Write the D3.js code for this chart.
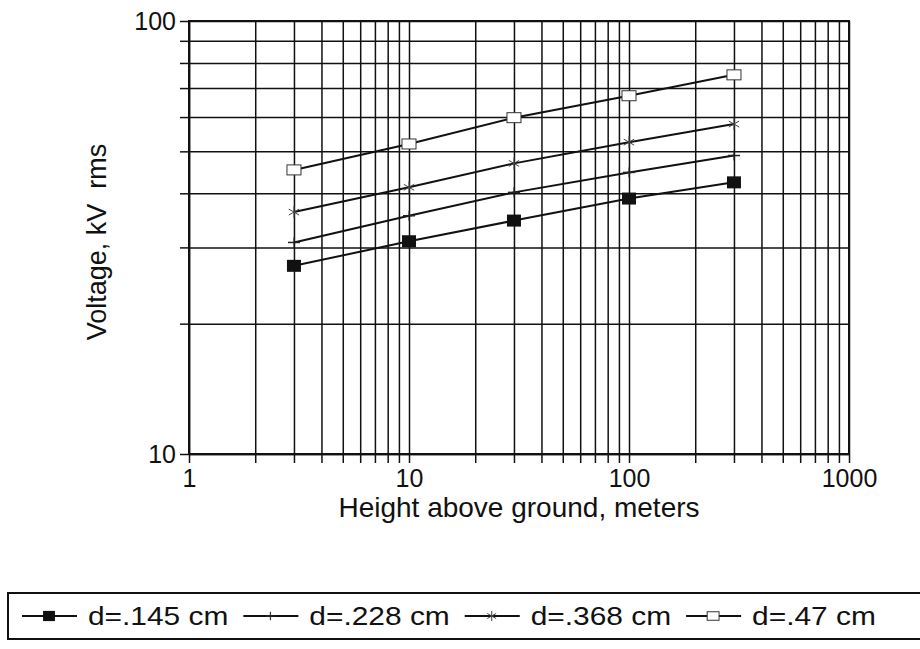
<!DOCTYPE html>
<html lang="en">
  <head>
    <meta charset="utf-8">
    <title>Voltage vs height</title>
    <style>
      body { margin: 0; background: #fff; }
      svg { display: block; font-family: "Liberation Sans", Arial, sans-serif; }
    </style>
  </head>
  <body>
  <script src="https://d3js.org/d3.v7.min.js"></script>

  <svg width="920" height="649"></svg>

  <script type="text/javascript">

    // data
    var heights = [3, 10, 30, 100, 300];
    var v145 = [27.2, 31.0, 34.6, 38.9, 42.4];
    var v228 = [30.8, 35.5, 40.2, 44.7, 48.9];
    var v368 = [36.2, 41.3, 46.9, 52.5, 57.8];
    var v47  = [45.3, 52.0, 59.8, 67.2, 75.1];
    var seriesNames = ["d=.145 cm", "d=.228 cm", "d=.368 cm", "d=.47 cm"];
    var seriesMarks = ["filled", "plus", "star", "open"];
    var xTickLabels = ["1", "10", "100", "1000"];
    var yTickLabels = ["10", "100"];

    var series = [v145, v228, v368, v47].map(function (vals, i) {
      return {
        name: seriesNames[i],
        mark: seriesMarks[i],
        points: vals.map(function (v, j) { return [heights[j], v]; })
      };
    });

    // note: "top" is taken by window.top, so plot edges get their own names
    var svg = d3.select("svg"),
        pLeft = 189, pRight = 849, pTop = 21, pBottom = 454;

    var x = d3.scaleLog().domain([1, 1000]).range([pLeft, pRight]);
    var y = d3.scaleLog().domain([10, 100]).range([pBottom, pTop]);

    // grid
    svg.append("g")
       .attr("transform", "translate(0," + pBottom + ")")
       .call(d3.axisBottom(x).tickValues(x.ticks()).tickSize(-(pBottom - pTop)).tickFormat(""))
       .call(function (g) { g.select(".domain").remove(); })
       .selectAll("line").attr("stroke", "#111").attr("stroke-width", 1.5);

    svg.append("g")
       .attr("transform", "translate(" + pLeft + ",0)")
       .call(d3.axisLeft(y).tickValues(y.ticks()).tickSize(-(pRight - pLeft)).tickFormat(""))
       .call(function (g) { g.select(".domain").remove(); })
       .selectAll("line").attr("stroke", "#111").attr("stroke-width", 1.5);

    // axes with outside ticks
    var xAxis = svg.append("g")
       .attr("transform", "translate(0," + pBottom + ")")
       .call(d3.axisBottom(x).tickValues(x.ticks()).tickSize(9).tickSizeOuter(0).tickPadding(6)
         .tickFormat(function (d) {
           var k = xTickLabels.indexOf(String(d));
           return k >= 0 ? xTickLabels[k] : "";
         }));

    var yAxis = svg.append("g")
       .attr("transform", "translate(" + pLeft + ",0)")
       .call(d3.axisLeft(y).tickValues(y.ticks()).tickSize(9).tickSizeOuter(0).tickPadding(4)
         .tickFormat(function (d) {
           var k = yTickLabels.indexOf(String(d));
           return k >= 0 ? yTickLabels[k] : "";
         }));

    [xAxis, yAxis].forEach(function (g) {
      g.selectAll("line, path").attr("stroke", "#111").attr("stroke-width", 1.5);
      g.selectAll("text").attr("fill", "#111").style("font-size", "25px")
       .style("font-family", "'Liberation Sans', Arial, sans-serif");
    });

    // plot frame
    svg.append("rect")
       .attr("x", pLeft).attr("y", pTop)
       .attr("width", pRight - pLeft).attr("height", pBottom - pTop)
       .attr("fill", "none").attr("stroke", "#111").attr("stroke-width", 2);

    // axis titles
    svg.append("text")
       .attr("x", (pLeft + pRight) / 2).attr("y", 517)
       .attr("text-anchor", "middle")
       .style("font-size", "28px").attr("fill", "#111")
       .text("Height above ground, meters");

    svg.append("text")
       .attr("transform", "translate(106,242) rotate(-90)")
       .attr("text-anchor", "middle")
       .style("font-size", "27px").attr("fill", "#111")
       .style("white-space", "pre")
       .text("Voltage, kV  rms");

    // markers
    function drawMark(g, type, cx, cy, scale) {
      scale = scale || 1;
      if (type == "filled") {
        g.append("rect").attr("x", cx - 7 * scale).attr("y", cy - 6 * scale)
         .attr("width", 14 * scale).attr("height", 12 * scale).attr("fill", "#111");
      } else if (type == "open") {
        g.append("rect").attr("x", cx - 7 * scale).attr("y", cy - 5 * scale)
         .attr("width", 14 * scale).attr("height", 10 * scale)
         .attr("fill", "#fff").attr("stroke", "#333").attr("stroke-width", 1);
      } else if (type == "star") {
        var r = 6 * scale;
        [0, 60, 120].forEach(function (a) {
          var t = a * Math.PI / 180;
          g.append("line")
           .attr("x1", cx - r * Math.sin(t)).attr("y1", cy - r * Math.cos(t))
           .attr("x2", cx + r * Math.sin(t)).attr("y2", cy + r * Math.cos(t))
           .attr("stroke", "#444").attr("stroke-width", 1);
        });
      } else if (type == "plus") {
        g.append("line").attr("x1", cx).attr("x2", cx).attr("y1", cy - 5 * scale).attr("y2", cy + 5 * scale)
         .attr("stroke", "#222").attr("stroke-width", 1);
        g.append("line").attr("x1", cx - 6 * scale).attr("x2", cx + 6 * scale).attr("y1", cy).attr("y2", cy)
         .attr("stroke", "#222").attr("stroke-width", 1.5);
      }
    }

    var line = d3.line()
                 .x(function (d) { return x(d[0]); })
                 .y(function (d) { return y(d[1]); });

    var sg = svg.selectAll(".series")
                .data(series)
                .enter()
                .append("g")
                .attr("class", "series");

    sg.append("path")
      .attr("d", function (d) { return line(d.points); })
      .attr("fill", "none")
      .attr("stroke", "#111")
      .attr("stroke-width", 2);

    sg.each(function (s) {
      var g = d3.select(this);
      s.points.forEach(function (p) { drawMark(g, s.mark, x(p[0]), y(p[1])); });
    });

    // legend (the scanned type is wider than Arial, so stretch it a bit)
    var legend = svg.append("g");
    legend.append("rect")
          .attr("x", 8).attr("y", 593)
          .attr("width", 930).attr("height", 46)
          .attr("fill", "none").attr("stroke", "#111").attr("stroke-width", 2);

    var lx = 22, ly = 616, stretch = 1.15;
    series.forEach(function (s) {
      legend.append("line")
            .attr("x1", lx).attr("x2", lx + 55).attr("y1", ly).attr("y2", ly)
            .attr("stroke", "#111").attr("stroke-width", 2);
      drawMark(legend, s.mark, lx + 27, ly, 0.85);
      var t = legend.append("text")
            .attr("transform", "translate(" + (lx + 66) + "," + (ly + 9) + ") scale(" + stretch + ",1)")
            .style("font-size", "26px")
            .attr("fill", "#111")
            .text(s.name);
      lx = lx + 66 + t.node().getComputedTextLength() * stretch + 15;
    });

  </script>
  </body>
</html>
